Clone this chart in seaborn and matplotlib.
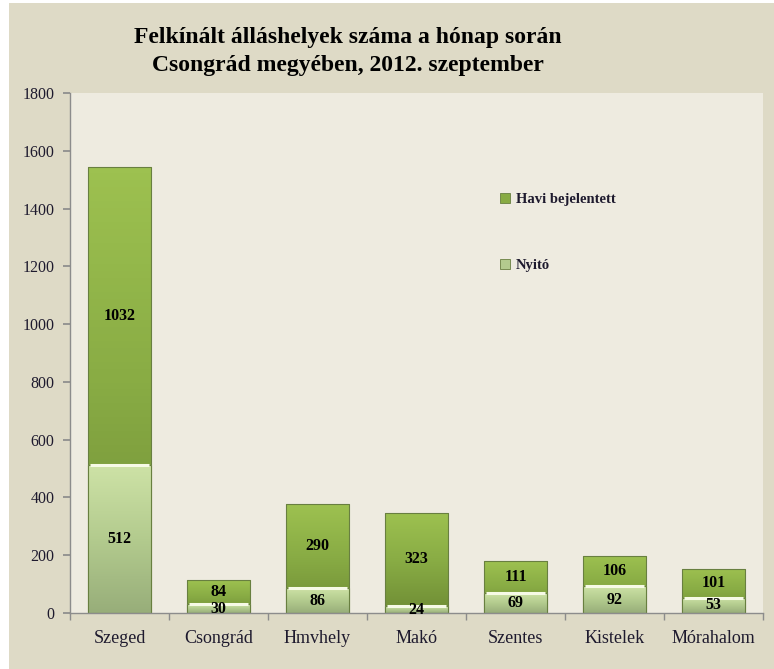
import numpy as np
import pandas as pd
import matplotlib.pyplot as plt
import seaborn as sns
from matplotlib.colors import LinearSegmentedColormap
from matplotlib.patches import Patch

# ============================================================
# DATA
# ============================================================
telepulesek = ['Szeged', 'Csongrád', 'Hmvhely', 'Makó', 'Szentes', 'Kistelek', 'Mórahalom']
nyito = [512, 30, 86, 24, 69, 92, 53]
havi = [1032, 84, 290, 323, 111, 106, 101]

df = pd.DataFrame({'telepules': telepulesek, 'nyito': nyito, 'havi': havi})
df['ossz'] = df['nyito'] + df['havi']

BG_OUT = '#DEDAC6'
BG_IN = '#EEEBE0'
DARK = ['#9DC150', '#88AB44', '#6F8D35']
LIGHT = ['#CDE2A6', '#B3CB8E', '#98AE7A']
TXT = '#1E1A2E'

sns.set_theme(style='white')
plt.rcParams['font.family'] = ['Liberation Serif', 'DejaVu Serif']

fig = plt.figure(figsize=(7.74, 6.69), dpi=100, facecolor='white')
fig.patches.append(plt.Rectangle((9 / 774, 0), 1, 1 - 3 / 669, transform=fig.transFigure,
                                 facecolor=BG_OUT, edgecolor='none', zorder=-10))
ax = fig.add_axes([70 / 774, 1 - 613 / 669, (763 - 70) / 774, (613 - 93) / 669])
ax.set_facecolor(BG_IN)

# ============================================================
# STACKED BARS: total (dark) first, opening stock (light) over it
# ============================================================
sns.barplot(data=df, x='telepules', y='ossz', color=DARK[1], width=0.64,
            saturation=1, ax=ax)
sns.barplot(data=df, x='telepules', y='nyito', color=LIGHT[1], width=0.64,
            saturation=1, ax=ax)

# gradient fill clipped to each bar
n = len(df)
for i, p in enumerate(ax.patches):
    cols = DARK if i < n else LIGHT
    cmap = LinearSegmentedColormap.from_list('g', cols)
    x0, y0, w, h = p.get_x(), p.get_y(), p.get_width(), p.get_height()
    grad = np.linspace(0, 1, 64).reshape(-1, 1)
    im = ax.imshow(grad, cmap=cmap, aspect='auto', origin='upper',
                   extent=(x0, x0 + w, y0, y0 + h), zorder=p.get_zorder() + (0.1 if i < n else 0.3))
    im.set_clip_path(p)
    p.set_edgecolor('#687F40')
    p.set_linewidth(0.8)
    p.set_zorder(p.get_zorder() + (0.2 if i < n else 0.4))
    p.set_facecolor('none')
    if i >= n:
        # light highlight at the top of the opening segment
        ax.plot([x0 + 0.02, x0 + w - 0.02], [y0 + h, y0 + h], color='#F6FAE6',
                lw=2.2, zorder=p.get_zorder() + 0.05, solid_capstyle='butt')

ax.set_xlim(-0.5, n - 0.5)
ax.set_ylim(0, 1800)
ax.set_yticks(range(0, 1801, 200))
ax.set_xlabel('')
ax.set_ylabel('')

# value labels
for i, row in df.iterrows():
    ax.text(i, row['nyito'] / 2, str(row['nyito']), ha='center', va='center',
            fontsize=11.5, fontweight='bold', color='black', zorder=10)
    ax.text(i, row['nyito'] + row['havi'] / 2, str(row['havi']), ha='center', va='center',
            fontsize=11.5, fontweight='bold', color='black', zorder=10)

# ============================================================
# AXES STYLING
# ============================================================
for s in ['top', 'right']:
    ax.spines[s].set_visible(False)
for s in ['left', 'bottom']:
    ax.spines[s].set_color('#8C8C8C')
    ax.spines[s].set_linewidth(1)
ax.tick_params(axis='y', left=True, length=5, color='#8C8C8C', labelsize=11.5,
               labelcolor=TXT, pad=6)
ax.set_xticks(np.arange(n))
ax.set_xticklabels(telepulesek, fontsize=13, color=TXT)
ax.tick_params(axis='x', bottom=False, pad=6)
ax.set_xticks(np.arange(-0.5, n, 1), minor=True)
ax.tick_params(axis='x', which='minor', bottom=True, length=5, color='#8C8C8C', direction='out')

handles = [Patch(facecolor=DARK[1], edgecolor='#687F40', linewidth=0.6),
           Patch(facecolor=LIGHT[1], edgecolor='#687F40', linewidth=0.6)]
leg = ax.legend(handles, ['Havi bejelentett', 'Nyitó'], loc='upper left',
                bbox_to_anchor=(487 / 774, 1 - 180 / 669), bbox_transform=fig.transFigure,
                frameon=False, labelspacing=3.6, handlelength=0.7, handleheight=0.7,
                handletextpad=0.4, prop={'weight': 'bold', 'size': 10.5})
for t in leg.get_texts():
    t.set_color(TXT)

fig.text(348 / 774, 1 - 38 / 669, 'Felkínált álláshelyek száma a hónap során',
         ha='center', va='center', fontsize=17, fontweight='bold', color='black')
fig.text(348 / 774, 1 - 65 / 669, 'Csongrád megyében, 2012. szeptember',
         ha='center', va='center', fontsize=17, fontweight='bold', color='black')

fig.savefig('out.png', dpi=100, facecolor=fig.get_facecolor())
